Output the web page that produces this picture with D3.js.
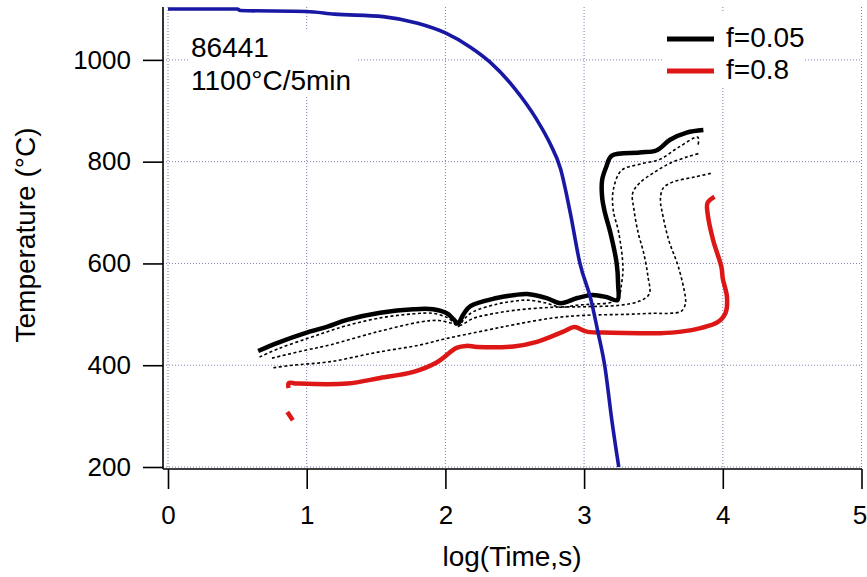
<!DOCTYPE html>
<html>
<head>
<meta charset="utf-8">
<script src="https://cdn.jsdelivr.net/npm/d3@7"></script>
<style>
body { margin: 0; background: #fff; }
text { font-family: "Liberation Sans", Arial, sans-serif; fill: #000; }
</style>
</head>
<body>
<div id="chart-area"></div>
<script>
// --- Data ---
var xTicks = [0, 1, 2, 3, 4, 5];
var yTicks = [200, 400, 600, 800, 1000];

// cooling curve [log(time), temperature]
var coolingCurve = [[0,1100],[0.5,1100],[0.52,1097],[1.0,1095],[1.2,1090],[1.55,1085],[1.8,1072],
	[2.0,1053],[2.18,1025],[2.32,996],[2.49,947],[2.66,882],[2.75,838],[2.83,786],[2.9,700],
	[2.97,600],[3.05,528],[3.1,465],[3.15,397],[3.2,292],[3.25,200]];

// f = 0.05
var curveF005 = [[0.65,428],[0.8,445],[1.0,464],[1.15,476],[1.29,489],[1.53,503],[1.77,510],[1.91,510],
	[2.01,502],[2.06,490],[2.09,482],[2.13,500],[2.18,516],[2.37,532],[2.5,538],[2.59,540],[2.73,532],
	[2.83,522],[2.95,532],[3.06,538],[3.16,534],[3.24,528],[3.245,560],[3.235,600],[3.19,660],
	[3.15,700],[3.13,730],[3.13,764],[3.16,790],[3.2,812],[3.4,818],[3.52,822],[3.62,843],[3.74,857],[3.86,862]];

// f = 0.8 (two pieces)
var curveF08a = [[0.86,308],[0.90,292]];
var curveF08b = [[0.87,355],[0.87,365],[0.93,364],[1.29,364],[1.53,375],[1.77,387],[1.94,406],[2.08,434],
	[2.15,438],[2.23,436],[2.49,437],[2.66,446],[2.85,466],[2.93,475],[3.02,466],[3.2,464],[3.4,463],
	[3.55,463],[3.7,466],[3.84,473],[3.96,484],[4.02,503],[4.03,534],[4.0,570],[3.99,593],[3.93,646],
	[3.89,699],[3.89,719],[3.94,731]];

// intermediate fractions (dotted)
var dotted1 = [[0.66,416],[0.8,433],[1.0,452],[1.15,466],[1.29,478],[1.53,493],[1.77,501],[1.91,502],
	[2.01,494],[2.06,484],[2.09,476],[2.14,492],[2.2,505],[2.37,520],[2.5,526],[2.59,528],[2.73,522],
	[2.83,514],[2.95,518],[3.06,520],[3.2,524],[3.25,535],[3.27,560],[3.28,593],[3.25,660],[3.21,705],
	[3.21,744],[3.27,783],[3.4,795],[3.55,805],[3.68,828],[3.82,848],[3.82,829]];
var dotted2 = [[0.75,414],[1.0,430],[1.17,440],[1.5,465],[1.82,485],[1.95,488],[2.05,482],[2.1,478],
	[2.2,492],[2.3,499],[2.5,508],[2.78,514],[3.0,515],[3.26,518],[3.4,526],[3.47,540],[3.46,575],
	[3.43,620],[3.39,660],[3.36,705],[3.35,738],[3.4,758],[3.5,778],[3.62,797],[3.75,810],[3.84,817]];
var dotted3 = [[0.76,395],[0.9,400],[1.17,407],[1.5,425],[1.82,440],[2.0,452],[2.3,469],[2.5,480],
	[2.78,493],[3.0,498],[3.31,500],[3.5,502],[3.62,502],[3.7,506],[3.73,520],[3.73,534],[3.68,593],
	[3.61,646],[3.56,705],[3.55,725],[3.57,748],[3.64,760],[3.8,770],[3.93,778]];

var legendNames = ["f=0.05", "f=0.8"];
var legendColors = ["#000000", "#dd1616"];
var sampleLines = ["86441", "1100\u00B0C/5min"];

// --- Canvas ---
var canvasWidth = 867;
var canvasHeight = 577;
var canvas = d3.select("#chart-area").append("svg")
	.attr("width", canvasWidth)
	.attr("height", canvasHeight);

var plot = {left: 163, right: 862, top: 7, bottom: 469};

var xScale = d3.scaleLinear().domain([0, 5]).range([168, 861.5]);
var yScale = d3.scaleLinear().domain([200, 1100]).range([467, 9]);

// --- Grid ---
var gridColor = "#7c7cac";
var grid = canvas.append("g")
	.attr("stroke", gridColor)
	.attr("stroke-width", 1)
	.attr("stroke-dasharray", "1,2");
grid.selectAll(".vgrid").data(xTicks).enter().append("line")
	.attr("x1", d => xScale(d)).attr("x2", d => xScale(d))
	.attr("y1", plot.top).attr("y2", yScale(200));
grid.selectAll(".hgrid").data(yTicks).enter().append("line")
	.attr("x1", plot.left).attr("x2", plot.right)
	.attr("y1", d => yScale(d)).attr("y2", d => yScale(d));

// white boxes behind annotation and legend
canvas.append("rect").attr("x", 188).attr("y", 30).attr("width", 170).attr("height", 67).attr("fill", "#fff");
canvas.append("rect").attr("x", 663).attr("y", 13).attr("width", 142).attr("height", 74).attr("fill", "#fff");

// --- Axes ---
var tickFont = 26;
var labelFont = 28;
var xAxis = d3.axisBottom(xScale).tickValues(xTicks).tickFormat(d3.format("d"))
	.tickSize(20).tickSizeOuter(0).tickPadding(17);
var xAxisGroup = canvas.append("g")
	.attr("transform", "translate(0," + plot.bottom + ")")
	.call(xAxis);
var yAxis = d3.axisLeft(yScale).tickValues(yTicks).tickFormat(d3.format("d"))
	.tickSize(20).tickSizeOuter(0).tickPadding(12);
var yAxisGroup = canvas.append("g")
	.attr("transform", "translate(" + plot.left + ",0)")
	.call(yAxis);

[xAxisGroup, yAxisGroup].forEach(g => {
	g.select(".domain").remove();
	g.attr("font-family", null).attr("font-size", null);
	g.selectAll(".tick line").attr("stroke", "#000").attr("stroke-width", 1.6);
	g.selectAll(".tick text").attr("font-size", tickFont + "px").attr("fill", "#000");
});
// last x label sits on the window edge, nudge it in a little
xAxisGroup.selectAll(".tick text").filter(d => d === 5).attr("dx", "-2");

canvas.append("line")
	.attr("x1", plot.left).attr("x2", plot.left)
	.attr("y1", plot.top).attr("y2", plot.bottom)
	.attr("stroke", "#000").attr("stroke-width", 1.6);
canvas.append("line")
	.attr("x1", plot.left).attr("x2", plot.right)
	.attr("y1", plot.bottom).attr("y2", plot.bottom)
	.attr("stroke", "#000").attr("stroke-width", 1.6);

// --- Axis titles ---
canvas.append("text")
	.text("log(Time,s)")
	.attr("x", 512)
	.attr("y", 566)
	.attr("text-anchor", "middle")
	.attr("font-size", labelFont + "px");

canvas.append("text")
	.text("Temperature (\u00B0C)")
	.attr("transform", "translate(35,235) rotate(-90)")
	.attr("text-anchor", "middle")
	.attr("font-size", labelFont + "px");

// --- Curves ---
var line = d3.line()
	.x(d => xScale(d[0]))
	.y(d => yScale(d[1]))
	.curve(d3.curveCatmullRom.alpha(0.5));

[dotted1, dotted2, dotted3].forEach(c => {
	canvas.append("path")
		.attr("d", line(c))
		.attr("fill", "none")
		.attr("stroke", "#000")
		.attr("stroke-width", 1.6)
		.attr("stroke-dasharray", "3,2.5");
});

[curveF08a, curveF08b].forEach(c => {
	canvas.append("path")
		.attr("d", line(c))
		.attr("fill", "none")
		.attr("stroke", legendColors[1])
		.attr("stroke-width", 4.5)
		.attr("stroke-linejoin", "round");
});

canvas.append("path")
	.attr("d", line(curveF005))
	.attr("fill", "none")
	.attr("stroke", legendColors[0])
	.attr("stroke-width", 4.5)
	.attr("stroke-linejoin", "round");

canvas.append("path")
	.attr("d", line.curve(d3.curveMonotoneX)(coolingCurve))
	.attr("fill", "none")
	.attr("stroke", "#1818a4")
	.attr("stroke-width", 3.6)
	.attr("stroke-linejoin", "round");

// --- Annotation ---
sampleLines.forEach((s, i) => {
	canvas.append("text")
		.text(s)
		.attr("x", 191)
		.attr("y", 57 + i * 33)
		.attr("font-size", labelFont + "px");
});

// --- Legend ---
legendNames.forEach((name, i) => {
	var row = canvas.append("g")
		.attr("transform", "translate(0," + (i * 32) + ")");
	row.append("line")
		.attr("x1", 667).attr("x2", 714)
		.attr("y1", 39).attr("y2", 39)
		.attr("stroke", legendColors[i])
		.attr("stroke-width", 5);
	row.append("text")
		.text(name)
		.attr("x", 726)
		.attr("y", 47)
		.attr("font-size", labelFont + "px");
});
</script>
</body>
</html>
